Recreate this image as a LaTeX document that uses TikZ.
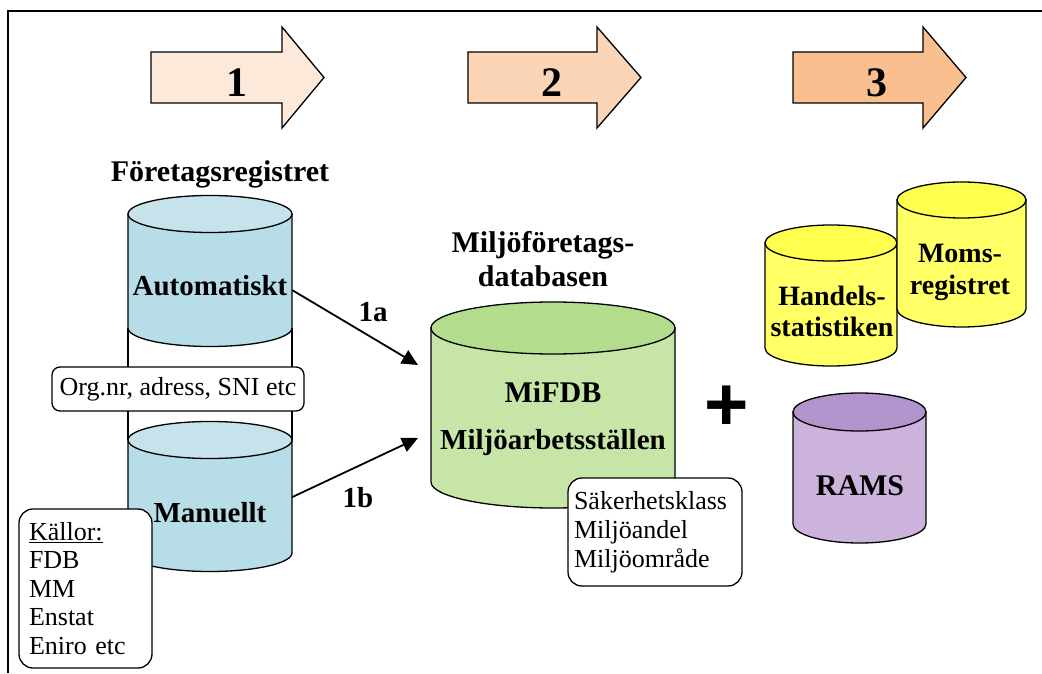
\documentclass[tikz,border=0pt]{standalone}
\usepackage{fontspec}
\setmainfont{Liberation Serif}
\newfontfamily\plusfont{Liberation Sans}
\usetikzlibrary{arrows.meta,calc}
\definecolor{arrA}{HTML}{FDE9D9}
\definecolor{arrB}{HTML}{FBD5B5}
\definecolor{arrC}{HTML}{F9BF8F}
\definecolor{blueTop}{HTML}{C6E3EC}
\definecolor{blueBody}{HTML}{B7DDE8}
\definecolor{greenTop}{HTML}{B3DC8C}
\definecolor{greenBody}{HTML}{C6E5A6}
\definecolor{yelTop}{HTML}{FFFF4D}
\definecolor{yelBody}{HTML}{FFFF66}
\definecolor{purTop}{HTML}{B294CC}
\definecolor{purBody}{HTML}{CCB3DC}
\newcommand\dbcyl[7]{%
  \filldraw[cylline,fill=#7] (#1,#3) -- (#1,#4)
    arc[start angle=180,end angle=360,x radius={(#2-#1)/2},y radius=#5]
    -- (#2,#3) -- cycle;
  \filldraw[cylline,fill=#6] ({(#1+#2)/2},#3) ellipse[x radius={(#2-#1)/2},y radius=#5];
}
\newcommand\blockarrow[4]{%
  \filldraw[cylline,fill=#4] (#1,570) -- (#1,621) -- (#2,621) -- (#2,646)
    -- (#3,595.5) -- (#2,545) -- (#2,570) -- cycle;
}
\tikzset{
  cylline/.style={draw=black,line width=1.3pt,line join=miter},
  boldlbl/.style={font=\bfseries\fontsize{29}{33}\selectfont,inner sep=0pt,anchor=base},
  headlbl/.style={font=\bfseries\fontsize{30}{34}\selectfont,inner sep=0pt,anchor=base,align=center},
  digit/.style={font=\bfseries\fontsize{42}{46}\selectfont,inner sep=0pt},
  infobox/.style={draw=black,line width=1.3pt,fill=white,font=\fontsize{26}{29}\selectfont},
  conn/.style={line width=1.8pt,-{Triangle[length=16pt,width=15pt]}},
}
\begin{document}
\begin{tikzpicture}[x=1pt,y=1pt]
\useasboundingbox (0,0) rectangle (1042,673);
% frame
\draw[line width=1.3pt] (8,0) -- (8,662) -- (1042,662);
% step arrows
\blockarrow{151}{282}{324}{arrA}
\blockarrow{468}{597}{641}{arrB}
\blockarrow{793}{923}{966}{arrC}
\node[digit] (s1) at (237,590.5) {1};
\node[digit] (s2) at (552,590.5) {2};
\node[digit] (s3) at (877,590.5) {3};
% Foretagsregistret
\node[headlbl] (fr) at (220,491) {Företagsregistret};
\fill[white] (128,233) rectangle (292,345);
\draw[cylline] (128,233) -- (128,345) (292,233) -- (292,345);
\dbcyl{128}{292}{459}{345}{18.5}{blueTop}{blueBody}
\dbcyl{128}{292}{233}{120}{18.5}{blueTop}{blueBody}
\node[boldlbl,minimum width=164pt] (auto) at (210,377) {Automatiskt};
\node[boldlbl,minimum width=164pt] (man) at (210,151) {Manuellt};
\node[infobox,rounded corners=8pt,minimum width=252pt,minimum height=44pt,inner sep=0pt] (org) at (178,284) {Org.nr, adress, SNI etc};
\node[infobox,rounded corners=14pt,minimum width=133pt,minimum height=159pt,inner xsep=10pt,text width=113pt,align=left,font=\fontsize{26}{28.5}\selectfont] (kallor) at (85.5,84.5) {\underline{Källor:}\\FDB\\MM\\Enstat\\Eniro etc};
% MiFDB
\node[headlbl] (mdbh) at (543,386) {Miljöföretags-\\databasen};
\dbcyl{431}{675}{345}{191}{26}{greenTop}{greenBody}
\node[boldlbl,font=\bfseries\fontsize{30}{34}\selectfont] (mifdb) at (553,270) {MiFDB};
\node[boldlbl] (marb) at (553,223) {Miljöarbetsställen};
\node[infobox,rounded corners=14pt,minimum width=174pt,minimum height=108pt,inner xsep=6pt,inner ysep=0pt,text width=162pt,align=left] (sak) at (655,141) {Säkerhetsklass\\Miljöandel\\Miljöområde};
% connectors
\coordinate (in1a) at (418,308);
\coordinate (in1b) at (418,235);
\draw[conn] ($(auto.east)+(0,-4)$) -- (in1a);
\draw[conn] ($(man.east)+(0,15)$) -- (in1b);
\node[boldlbl] (l1a) at (373,351) {1a};
\node[boldlbl] (l1b) at (358,166) {1b};
% plus
\node[font=\plusfont\bfseries\fontsize{76}{80}\selectfont,inner sep=0pt] (plus) at (727,265) {+};
% step 3 sources
\dbcyl{765}{897}{430}{325}{18}{yelTop}{yelBody}
\dbcyl{897}{1026}{473}{364}{18}{yelTop}{yelBody}
\node[headlbl,font=\bfseries\fontsize{28}{31}\selectfont] (hs) at (832,336) {Handels-\\statistiken};
\node[headlbl,font=\bfseries\fontsize{28}{32}\selectfont] (moms) at (960,378) {Moms-\\registret};
\dbcyl{793}{926}{261}{149}{19}{purTop}{purBody}
\node[boldlbl,font=\bfseries\fontsize{30}{34}\selectfont] (rams) at (860,178) {RAMS};
\end{tikzpicture}
\end{document}
